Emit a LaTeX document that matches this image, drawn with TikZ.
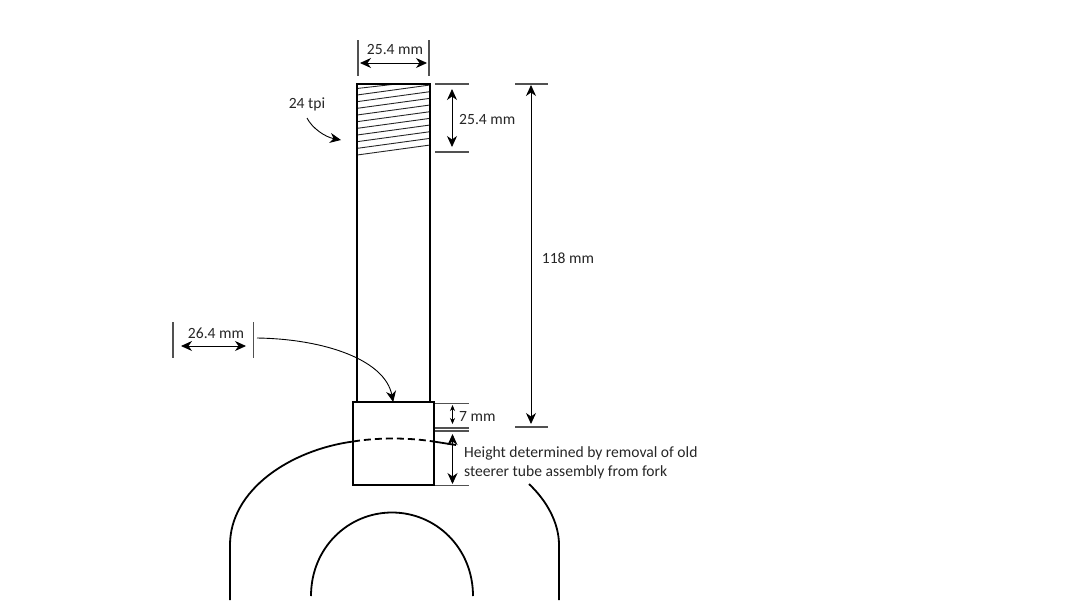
\documentclass[tikz,border=0pt]{standalone}
\usepackage{fontspec}
\setmainfont{Carlito}
\usetikzlibrary{arrows.meta}
\definecolor{inkgray}{HTML}{262626}
\tikzset{
  tipbig/.tip={Stealth[length=11pt,width=10pt,inset=3.5pt]},
  tipsmall/.tip={Stealth[length=6pt,width=5pt,inset=2pt]},
  body/.style={draw=black, line width=1.8pt, inner sep=0pt, outer sep=0pt},
  fork/.style={draw=black, line width=1.8pt},
  tick/.style={draw=inkgray!80, line width=1.1pt},
  dim/.style={draw=black, line width=0.9pt, {tipbig}-{tipbig}},
  lead/.style={draw=black, line width=0.9pt, -{tipbig}},
  thread/.style={draw=inkgray, line width=0.9pt},
  lbl/.style={text=inkgray, font=\fontsize{15.6}{19}\selectfont, inner sep=0pt}
}
\begin{document}
\begin{tikzpicture}[x=1pt,y=-1pt]
  \useasboundingbox (0,0) rectangle (1067,600);
  % threads
  \draw[thread] (357,88.5) -- (392,84.5);
  \foreach \i in {0,...,9}
    \draw[thread] (357,{95+\i*6.67}) -- (430,{85+\i*6.67});
  % tube and collar
  \node[body, minimum width=73pt, minimum height=318pt] (tube) at (393.5,243) {};
  \node[body, minimum width=81pt, minimum height=83pt] (collar) at (393.2,443.5) {};
  % fork
  \coordinate (fl) at (230,600);
  \coordinate (fa) at (230,545);
  \coordinate (fb) at (353,441.5);
  \coordinate (fc) at (433.5,441.5);
  \coordinate (fd) at (456,445);
  \draw[fork] (fl) -- (fa) .. controls (230,490) and (290,450) .. (fb);
  \draw[fork, dash pattern=on 7pt off 4pt] (fb) .. controls (378,437.5) and (408,437.5) .. (fc);
  \draw[fork] (fc) -- (fd);
  \coordinate (fe) at (529,484);
  \coordinate (ff) at (559,545);
  \coordinate (fg) at (559,600);
  \draw[fork] (fe) .. controls (547,501) and (559,523) .. (ff) -- (fg);
  \coordinate (il) at (311,596);
  \coordinate (ir) at (473,596);
  \draw[fork] (il) .. controls (311,548) and (348,512.5) .. (392,512.5)
    .. controls (436,512.5) and (473,548) .. (ir);
  % top width
  \coordinate (ta) at (358,40);
  \coordinate (tb) at (358,76);
  \coordinate (tc) at (429,40);
  \coordinate (td) at (429,76);
  \coordinate (te) at (360,63);
  \coordinate (tf) at (427,63);
  \draw[tick] (ta) -- (tb);
  \draw[tick] (tc) -- (td);
  \draw[dim] (te) -- (tf);
  \node[lbl] (toplabel) at (395,49) {25.4 mm};
  % thread length
  \coordinate (ra) at (435,84);
  \coordinate (rb) at (469,84);
  \coordinate (rc) at (435,152);
  \coordinate (rd) at (469,152);
  \coordinate (re) at (452,89);
  \coordinate (rf) at (452,147);
  \draw[tick] (ra) -- (rb);
  \draw[tick] (rc) -- (rd);
  \draw[dim] (re) -- (rf);
  \node[lbl, anchor=west] (threadlabel) at (459,119) {25.4 mm};
  % overall length
  \coordinate (oa) at (515,84);
  \coordinate (ob) at (548,84);
  \coordinate (oc) at (515,427);
  \coordinate (od) at (548,427);
  \coordinate (oe) at (531,85);
  \coordinate (of) at (531,424);
  \draw[tick] (oa) -- (ob);
  \draw[tick] (oc) -- (od);
  \draw[dim] (oe) -- (of);
  \node[lbl] (overalllabel) at (568,258) {118 mm};
  % tpi note
  \node[lbl] (tpilabel) at (307,104) {24 tpi};
  \coordinate (tpistart) at (307,118);
  \coordinate (tpiend) at (341,140);
  \draw[lead] (tpistart) .. controls (312,128) and (325,137) .. (tpiend);
  % collar width
  \coordinate (wa) at (173,322);
  \coordinate (wb) at (173,358);
  \coordinate (wc) at (253.5,322);
  \coordinate (wd) at (253.5,358);
  \coordinate (we) at (181,346);
  \coordinate (wf) at (246,346);
  \draw[tick] (wa) -- (wb);
  \draw[tick] (wc) -- (wd);
  \draw[dim] (we) -- (wf);
  \node[lbl] (collarlabel) at (216,333.5) {26.4 mm};
  \coordinate (wg) at (257,338);
  \draw[lead] (wg) .. controls (325,339) and (385,360) .. (collar.north);
  % collar step
  \coordinate (sa) at (435,403.5);
  \coordinate (sb) at (469,403.5);
  \coordinate (sc) at (435,428);
  \coordinate (sd) at (469,428);
  \coordinate (se) at (435,431);
  \coordinate (sf) at (469,431);
  \coordinate (sg) at (435,485.5);
  \coordinate (sh) at (469,485.5);
  \coordinate (si) at (452.5,405);
  \coordinate (sj) at (452.5,424);
  \coordinate (sk) at (452.5,434);
  \coordinate (sl) at (452.5,484);
  \draw[tick] (sa) -- (sb);
  \draw[tick] (sc) -- (sd);
  \draw[tick] (se) -- (sf);
  \draw[tick] (sg) -- (sh);
  \draw[draw=black, line width=0.7pt, {tipsmall}-{tipsmall}] (si) -- (sj);
  \draw[dim] (sk) -- (sl);
  \node[lbl, anchor=west] (steplabel) at (459,416.5) {7 mm};
  \node[lbl, anchor=north west, align=left] (heightlabel) at (464,446.5) {Height determined by removal of old\\steerer tube assembly from fork};
\end{tikzpicture}
\end{document}
